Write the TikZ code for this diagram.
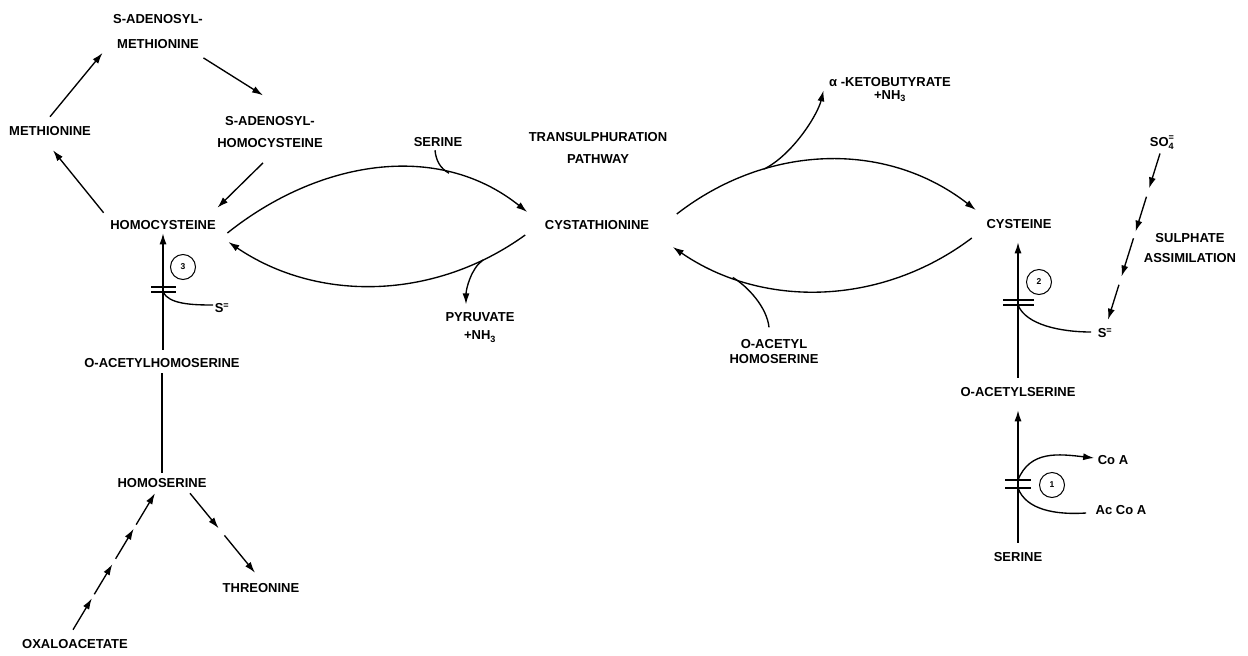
\documentclass[tikz,border=0pt]{standalone}
\usepackage{fontspec}
\setmainfont{Liberation Sans}
\usepackage{tikz}
\usetikzlibrary{arrows.meta,calc}

\begin{document}
\begin{tikzpicture}
      [x=1pt,y=-1pt,line width=1.35pt,
       react/.style={-{Latex[length=11pt,width=7pt]}},
       enzyme/.style={circle,draw,line width=1pt,minimum size=25pt,inner sep=0pt,
                      font=\fontsize{8.5}{9}\selectfont\bfseries}]
      \tikzstyle{every node}=[inner sep=0pt,font=\fontsize{13}{15}\selectfont\bfseries]
      \useasboundingbox (0,0) rectangle (1248,656);

      % methionine cycle
      \node[anchor=north,align=center] (sam) at (158,13.35) {S-ADENOSYL-\\[10pt]METHIONINE};
      \node (meth) at (50,131) {METHIONINE};
      \node[anchor=north,align=center] (sah) at (270,115.35) {S-ADENOSYL-\\[7pt]HOMOCYSTEINE};
      \node (hcy) at (163,225) {HOMOCYSTEINE};
      \draw[react] ([yshift=9pt]meth.north) -- ([xshift=-10pt,yshift=-4pt]sam.south west);
      \draw[react] ([yshift=-9pt]sam.south east) -- ([xshift=-7pt,yshift=20pt]sah.north);
      \draw[react] ([xshift=-7pt,yshift=-15pt]sah.south) -- ([xshift=1pt,yshift=12pt]hcy.north east);
      \draw[react] ([xshift=-6pt,yshift=7pt]hcy.north west) -- ([xshift=3pt,yshift=-14pt]meth.south);

      % transulphuration
      \node (cysta) at (597,225) {CYSTATHIONINE};
      \node (ser) at (438,142) {SERINE};
      \node[anchor=north,align=center] (trans) at (598,131.35) {TRANSULPHURATION\\[7pt]PATHWAY};
      \node[anchor=north,align=center] (pyr) at (480,312.35) {PYRUVATE\\[3pt]+NH\textsubscript{3}};
      \draw[react] ([xshift=11pt,yshift=-8pt]hcy.east) .. controls +(90,-72) and +(-90,-72)
        .. ([xshift=-17pt,yshift=13pt]cysta.west) coordinate[pos=0.73] (j1);
      \draw ([xshift=-3pt,yshift=-3pt]ser.south) .. controls +(1,10) and +(-9,-5) .. (j1);
      \draw[react] ([xshift=-19pt,yshift=-10pt]cysta.west) .. controls +(-90,65) and +(90,61)
        .. ([xshift=12pt,yshift=-17pt]hcy.east) coordinate[pos=0.15] (j2);
      \draw[react] (j2) .. controls +(-12,8) and +(0,-15) .. ([xshift=-14pt,yshift=8pt]pyr.north);

      \node (cys) at (1019,224) {CYSTEINE};
      \node[anchor=north,align=center] (keto) at (890,76.35) {α -KETOBUTYRATE\\[-2pt]+NH\textsubscript{3}};
      \node[anchor=north,align=center] (oah) at (774,338.35) {O-ACETYL\\HOMOSERINE};
      \draw[react] ([xshift=27pt,yshift=11pt]cysta.east) .. controls +(90,-70) and +(-90,-70)
        .. ([xshift=-10pt,yshift=14pt]cys.west) coordinate[pos=0.3] (j3);
      \draw[react] (j3) .. controls +(28,-14) and +(-6,25) .. ([xshift=-5pt,yshift=-14pt]keto.north west);
      \draw[react] ([xshift=-14pt,yshift=-14pt]cys.west) .. controls +(-90,68) and +(90,62)
        .. ([xshift=23pt,yshift=-22pt]cysta.east) coordinate[pos=0.79] (j4);
      \draw ([xshift=-5pt,yshift=11pt]oah.north) .. controls +(-2,-20) and +(15,9) .. (j4);

      % homocysteine synthesis
      \node (oahs) at (162,363) {O-ACETYLHOMOSERINE};
      \draw[react,shorten <=8pt,shorten >=3pt] (hcy.south |- oahs.north) -- (hcy.south);
      \node[enzyme] (c3) at (183,267) {3};
      \node (sL) at (222,308) {S\textsuperscript{=}};
      \draw (151,287) -- (176,287) (151,292) -- (176,292);
      \coordinate (b3) at (163,292);
      \draw (b3) .. controls +(6,12) and +(-22,0) .. ([xshift=-1pt,yshift=3pt]sL.west);
      \node (homs) at (162,483) {HOMOSERINE};
      \draw[shorten <=5pt,shorten >=5pt] (oahs.south -| homs.north) -- (homs.north);
      \node (thr) at (261,588) {THREONINE};
      \node (oxa) at (75,644) {OXALOACETATE};
      \coordinate (oxaA) at ([xshift=-2pt,yshift=9pt]oxa.north);
      \coordinate (homsA) at ([xshift=-7pt,yshift=-5pt]homs.south);
      \coordinate (homsB) at ([xshift=28pt,yshift=-5pt]homs.south);
      \coordinate (thrA) at ([xshift=-6pt,yshift=10pt]thr.north);
      \foreach \s/\e in {0/0.23,0.26/0.48,0.52/0.74,0.77/1}
        \draw[react] ($(oxaA)!\s!(homsA)$) -- ($(oxaA)!\e!(homsA)$);
      \foreach \s/\e in {0/0.44,0.53/1}
        \draw[react] ($(homsB)!\s!(thrA)$) -- ($(homsB)!\e!(thrA)$);

      % cysteine synthesis
      \node (oas) at (1018,392) {O-ACETYLSERINE};
      \draw[react,shorten <=9pt,shorten >=13pt] (oas.north) -- (oas.north |- cys.south);
      \node[enzyme] (c2) at (1039,282) {2};
      \draw (1003,300) -- (1034,300) (1003,305) -- (1034,305);
      \coordinate (b2) at (1018,305);
      \node (sR) at (1105,333) {S\textsuperscript{=}};
      \draw (b2) .. controls +(8,20) and +(-30,0) .. ([xshift=-6pt,yshift=1pt]sR.west);
      \node[anchor=base] (so4) at (1162,146.65)
        {SO\rlap{\raisebox{2pt}{\textsuperscript{=}}}\raisebox{-1pt}{\textsubscript{4}}};
      \node[anchor=north,align=center] (sulph) at (1190,232.35) {SULPHATE\\[5pt]ASSIMILATION};
      \coordinate (so4A) at ([xshift=-2pt,yshift=-3pt]so4.south);
      \coordinate (sRA) at ([xshift=3pt,yshift=8pt]sR.north);
      \foreach \s/\e in {0/0.21,0.26/0.47,0.51/0.74,0.79/1}
        \draw[react] ($(so4A)!\s!(sRA)$) -- ($(so4A)!\e!(sRA)$);
      \node (serB) at (1018,557) {SERINE};
      \draw[react,shorten <=9pt,shorten >=13pt] (serB.north) -- (serB.north |- oas.south);
      \node[enzyme] (c1) at (1052,485) {1};
      \draw (1005,480) -- (1031,480) (1005,488) -- (1031,488);
      \coordinate (b1a) at (1018,480);
      \coordinate (b1b) at (1018,488);
      \node (coa) at (1113,460) {Co A};
      \node (accoa) at (1121,510) {Ac Co A};
      \draw[react] (b1a) .. controls +(12,-30) and +(-35,-4) .. ([xshift=-3pt,yshift=2pt]coa.west);
      \draw ([xshift=-9pt,yshift=-3pt]accoa.west) .. controls +(-30,2) and +(8,22) .. (b1b);
\end{tikzpicture}
\end{document}
